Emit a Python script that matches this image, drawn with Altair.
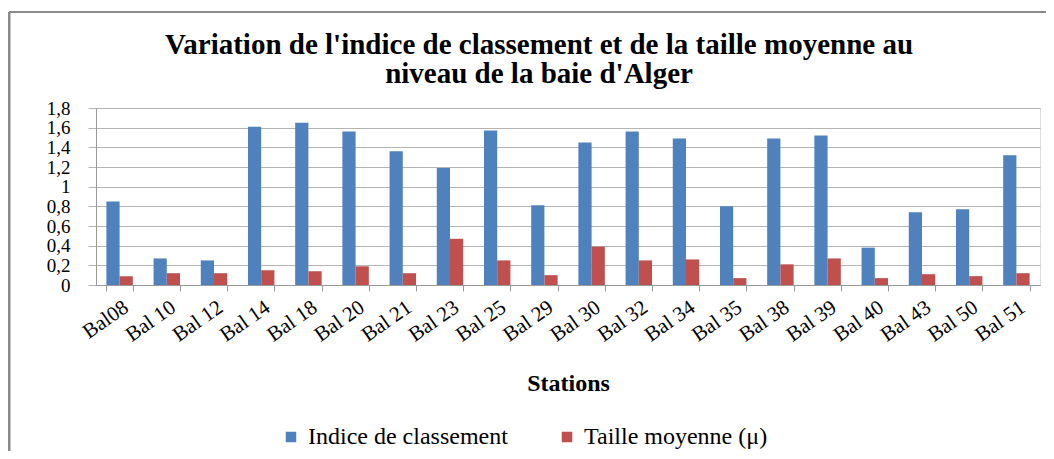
import altair as alt
import pandas as pd

stations = ["Bal08", "Bal 10", "Bal 12", "Bal 14", "Bal 18", "Bal 20", "Bal 21", "Bal 23",
            "Bal 25", "Bal 29", "Bal 30", "Bal 32", "Bal 34", "Bal 35", "Bal 38", "Bal 39",
            "Bal 40", "Bal 43", "Bal 50", "Bal 51"]
indice = [0.85, 0.27, 0.25, 1.61, 1.65, 1.56, 1.36, 1.19, 1.57, 0.81,
          1.45, 1.56, 1.49, 0.80, 1.49, 1.52, 0.38, 0.74, 0.77, 1.32]
taille = [0.09, 0.12, 0.12, 0.15, 0.14, 0.19, 0.12, 0.47, 0.25, 0.10,
          0.39, 0.25, 0.26, 0.07, 0.21, 0.27, 0.07, 0.11, 0.09, 0.12]
series_names = ["Indice de classement", "Taille moyenne (\u03bc)"]
y_ticks = [0, 0.2, 0.4, 0.6, 0.8, 1.0, 1.2, 1.4, 1.6, 1.8]
title_lines = ["Variation de l'indice de classement et de la taille moyenne au",
               "niveau de la baie d'Alger"]

rows = []
for s, a, b in zip(stations, indice, taille):
    rows.append({"Station": s, "Serie": series_names[0], "Valeur": a})
    rows.append({"Station": s, "Serie": series_names[1], "Valeur": b})
df = pd.DataFrame(rows)

FONT = "'Liberation Serif', 'Times New Roman', Times, serif"
GRID = "#b4b4b4"

bars = alt.Chart(df).mark_bar().encode(
    x=alt.X("Station:N", sort=stations,
            scale=alt.Scale(paddingInner=0.44, paddingOuter=0.22),
            axis=alt.Axis(title="Stations", labelAngle=-35, labelFont=FONT, labelFontSize=21,
                          labelColor="black", tickBand="extent", tickSize=6, tickColor="#999999",
                          domainColor="#999999", grid=False, labelPadding=5,
                          titleFont=FONT, titleFontSize=24, titleFontWeight="bold",
                          titleColor="black", titleY=105, titleBaseline="alphabetic")),
    xOffset=alt.XOffset("Serie:N", sort=series_names),
    y=alt.Y("Valeur:Q", scale=alt.Scale(domain=[0, 1.8], nice=False),
            axis=alt.Axis(title=None, values=y_ticks, labelOverlap=False,
                          labelExpr="replace(format(datum.value, '.1~f'), '.', ',')",
                          labelFont=FONT, labelFontSize=19, labelColor="black",
                          gridColor=GRID, tickColor=GRID, tickSize=8, domainColor="#999999",
                          labelPadding=18)),
    color=alt.Color("Serie:N", sort=series_names,
                    scale=alt.Scale(domain=series_names, range=["#4F81BD", "#C0504D"]),
                    legend=alt.Legend(title=None, orient="none", legendX=183, legendY=317,
                                      direction="horizontal", symbolType="square",
                                      symbolSize=110, symbolStrokeWidth=0,
                                      labelFont=FONT, labelFontSize=24, labelColor="black",
                                      labelLimit=0, columnPadding=47, labelOffset=5)),
)

frame_df = pd.DataFrame({"k": [0]})
left_line = alt.Chart(frame_df).mark_rule(color="#8a8a8a", strokeWidth=3).encode(
    x=alt.value(-87), y=alt.value(-96), y2=alt.value(343))
top_line = alt.Chart(frame_df).mark_rule(color="#8a8a8a", strokeWidth=2).encode(
    x=alt.value(-87), x2=alt.value(952), y=alt.value(-96))

chart = alt.layer(bars, left_line, top_line).properties(
    width=944, height=177,
    autosize=alt.AutoSizeParams(type="none"),
    padding={"left": 88, "top": 100, "right": 6, "bottom": 166},
    title=alt.TitleParams(text=title_lines, font=FONT, fontSize=29, fontWeight="bold",
                          color="black", anchor="middle", dx=-29, offset=-78, lineHeight=29),
).configure_view(stroke=None).configure(background="white")

chart.save("out.html", embed_options={"renderer": "svg", "actions": False})
